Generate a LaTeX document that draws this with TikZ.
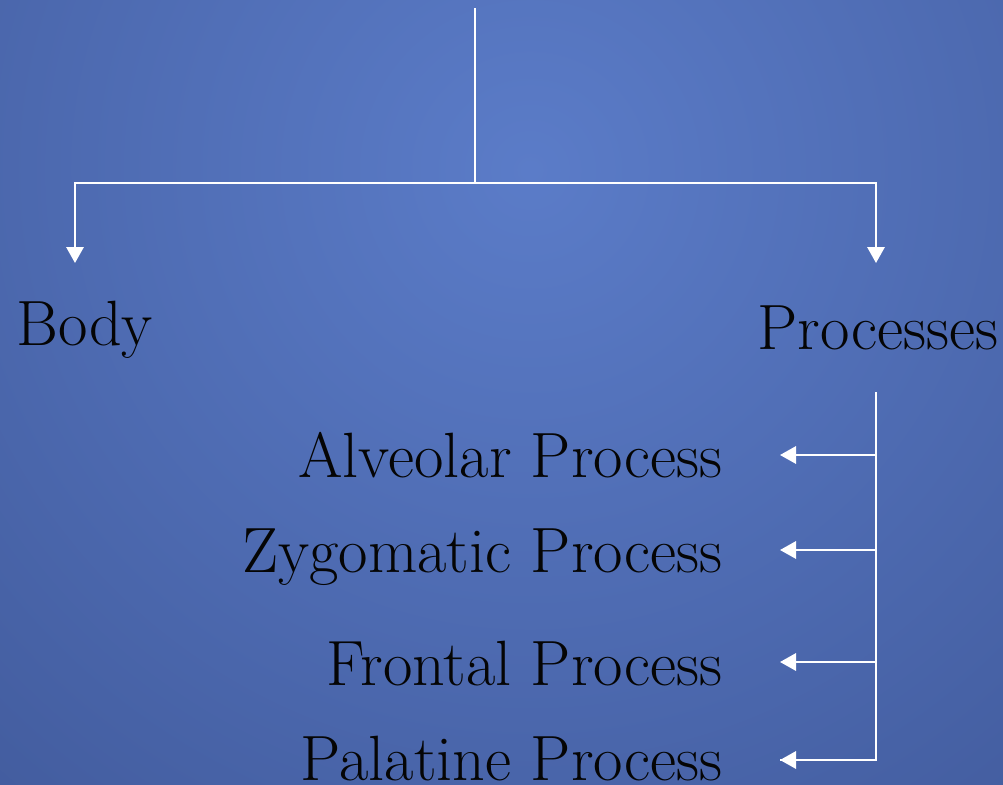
\documentclass[tikz,border=0pt]{standalone}
\usepackage{fontspec}
\usepackage{tikz}
\usetikzlibrary{arrows.meta}
\definecolor{bgcenter}{HTML}{5B7CC8}
\definecolor{bgedge}{HTML}{2C3F78}
\definecolor{inkblack}{HTML}{050505}

\begin{document}
\begin{tikzpicture}[x=0.75pt, y=-0.75pt]
    \tikzstyle{every node}=[inkblack, inner sep=0pt, font=\fontsize{48}{56}\selectfont];
    \tikzstyle{branch}=[white, line width=1.6pt];
    \tikzstyle{pointer}=[branch, -{Triangle[width=13pt, length=12pt]}];
    % background
    \path[use as bounding box, clip] (0,0) rectangle (1003,785);
    \shade[inner color=bgcenter, outer color=bgedge] (530,170) circle (1600);
    % labels
    \node[anchor=base west] (body)      at (16,345)  {Body};
    \node[anchor=base west] (processes) at (757,349) {Processes};
    \node[anchor=base east] (alveolar)  at (723,477) {Alveolar Process};
    \node[anchor=base east] (zygomatic) at (723,572) {Zygomatic Process};
    \node[anchor=base east] (frontal)   at (723,685) {Frontal Process};
    \node[anchor=base east] (palatine)  at (723,780) {Palatine Process};
    % tree lines
    \coordinate (root) at (475,8);
    \coordinate (split) at (475,183);
    \coordinate (bodytip) at (75,263);
    \coordinate (proctip) at (876,263);
    \coordinate (stem) at (876,392);
    \coordinate (alvtip) at (780,455);
    \coordinate (zygtip) at (780,550);
    \coordinate (fronttip) at (780,662);
    \coordinate (paltip) at (780,760);
    \draw[branch] (root) -- (split);
    \draw[pointer] (split) -| (bodytip);
    \draw[pointer] (split) -| (proctip);
    \draw[branch] (stem) |- (paltip);
    \draw[pointer] (stem |- alvtip) -- (alvtip);
    \draw[pointer] (stem |- zygtip) -- (zygtip);
    \draw[pointer] (stem |- fronttip) -- (fronttip);
    \draw[pointer] (stem |- paltip) -- (paltip);
\end{tikzpicture}
\end{document}
